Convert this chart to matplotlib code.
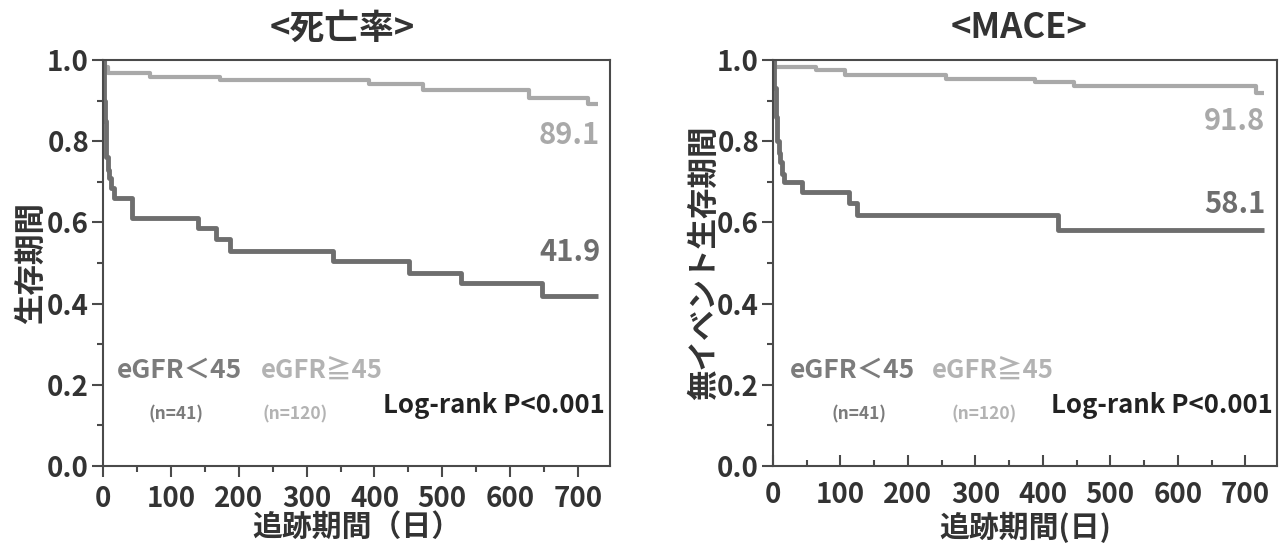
import matplotlib
matplotlib.use('Agg')
import matplotlib.pyplot as plt
from matplotlib.ticker import MultipleLocator

plt.rcParams['font.family'] = ['Noto Sans CJK JP', 'DejaVu Sans']
plt.rcParams['font.weight'] = 'bold'

DARK = '#6e6e6e'
LIGHT = '#a9a9a9'
SPINE = '#4a4a4a'

# Panel A: mortality (Kaplan-Meier)
death_low_t = [0, 1, 2, 3, 4, 5, 7, 9, 12, 16, 43, 140, 166, 187, 339, 451, 527, 647, 730]
death_low_s = [1.0, 0.95, 0.90, 0.85, 0.80, 0.76, 0.73, 0.71, 0.685, 0.66, 0.61, 0.585,
               0.56, 0.53, 0.505, 0.475, 0.45, 0.419, 0.419]
death_high_t = [0, 3, 8, 69, 172, 392, 471, 627, 715, 730]
death_high_s = [1.0, 0.983, 0.967, 0.958, 0.95, 0.94, 0.925, 0.906, 0.891, 0.891]

# Panel B: MACE
mace_low_t = [0, 2, 4, 6, 9, 11, 14, 17, 43, 112, 124, 423, 727]
mace_low_s = [1.0, 0.93, 0.86, 0.80, 0.77, 0.75, 0.72, 0.70, 0.675, 0.647, 0.618, 0.581, 0.581]
mace_high_t = [0, 3, 63, 106, 256, 388, 446, 716, 727]
mace_high_s = [1.0, 0.983, 0.975, 0.964, 0.954, 0.946, 0.937, 0.918, 0.918]

titles = ['<死亡率>', '<MACE>']
ylabels = ['生存期間', '無イベント生存期間']
xlabels = ['追跡期間（日）', '追跡期間(日)']
end_low = ['41.9', '58.1']
end_high = ['89.1', '91.8']
groups = ['eGFR＜45', 'eGFR≧45']
counts = ['(n=41)', '(n=120)']

W, H = 1283, 543
fig = plt.figure(figsize=(W / 100, H / 100), dpi=100)
ax1 = fig.add_axes([103 / W, 1 - 466 / H, 507 / W, 406 / H])
ax2 = fig.add_axes([773 / W, 1 - 466 / H, 504 / W, 406 / H])

panels = [
    (ax1, death_low_t, death_low_s, death_high_t, death_high_s),
    (ax2, mace_low_t, mace_low_s, mace_high_t, mace_high_s),
]
title_x = [342, 1019]
xlabel_x = [357, 1025]

for i, (ax, lt, ls, ht, hs) in enumerate(panels):
    ax.step(ht, hs, where='post', color=LIGHT, lw=3.0, solid_capstyle='butt')
    ax.step(lt, ls, where='post', color=DARK, lw=3.5, solid_capstyle='butt')

    ax.set_xlim(0, 747)
    ax.set_ylim(0, 1.0)
    ax.xaxis.set_major_locator(MultipleLocator(100))
    ax.xaxis.set_minor_locator(MultipleLocator(50))
    ax.yaxis.set_major_locator(MultipleLocator(0.2))
    ax.yaxis.set_minor_locator(MultipleLocator(0.1))
    ax.yaxis.set_major_formatter(plt.FuncFormatter(lambda v, p: f'{v:.1f}'))

    xdir = 'out' if i == 0 else 'in'
    ax.tick_params(axis='x', which='major', direction=xdir, length=8, width=1.5,
                   color=SPINE, labelsize=20, pad=6 if i == 0 else 11)
    ax.tick_params(axis='x', which='minor', direction=xdir, length=4.5, width=1.5,
                   color=SPINE)
    ax.tick_params(axis='y', which='major', direction='out', length=8, width=1.5,
                   color=SPINE, labelsize=20, pad=2)
    ax.tick_params(axis='y', which='minor', direction='out', length=4.5, width=1.5,
                   color=SPINE)
    for lab in ax.get_xticklabels() + ax.get_yticklabels():
        lab.set_fontweight('bold')
        lab.set_color('#333333')
    for sp in ax.spines.values():
        sp.set_color(SPINE)
        sp.set_linewidth(1.5)

    fig.text(title_x[i] / W, 1 - 28 / H, titles[i], ha='center', va='center',
             fontsize=25, fontweight='bold', color='#333333')
    fig.text(xlabel_x[i] / W, 1 - 527 / H, xlabels[i], ha='center', va='center',
             fontsize=21.5, fontweight='bold', color='#333333')
    ax.set_ylabel(ylabels[i], fontsize=22, fontweight='bold', color='#333333',
                  labelpad=0 if i == 0 else -2)

    # end-point survival percentages
    ax.text(lt[-1] + 2, 0.85 if i else 0.815, end_high[i], ha='right', va='center',
            fontsize=21, fontweight='bold', color=LIGHT)
    ax.text(lt[-1] + 3, 0.645 if i else 0.528, end_low[i], ha='right', va='center',
            fontsize=21, fontweight='bold', color=DARK)

    # group legend
    x_low, x_high = (20, 232) if i == 0 else (25, 236)
    ax.text(x_low, 0.237, groups[0], ha='left', va='center', fontsize=19,
            fontweight='bold', color='#7c7c7c')
    ax.text(x_high, 0.237, groups[1], ha='left', va='center', fontsize=18.5,
            fontweight='bold', color='#b3b3b3')
    c_low, c_high = (108, 283) if i == 0 else (128, 313)
    ax.text(c_low, 0.128, counts[0], ha='center', va='center', fontsize=12.5,
            fontweight='bold', color='#7c7c7c')
    ax.text(c_high, 0.128, counts[1], ha='center', va='center', fontsize=12.5,
            fontweight='bold', color='#b3b3b3')
    ax.text(740, 0.148, 'Log-rank P<0.001', ha='right', va='center', fontsize=18.5,
            fontweight='bold', color='#222222')

fig.savefig('out.png', dpi=100, facecolor='white')
